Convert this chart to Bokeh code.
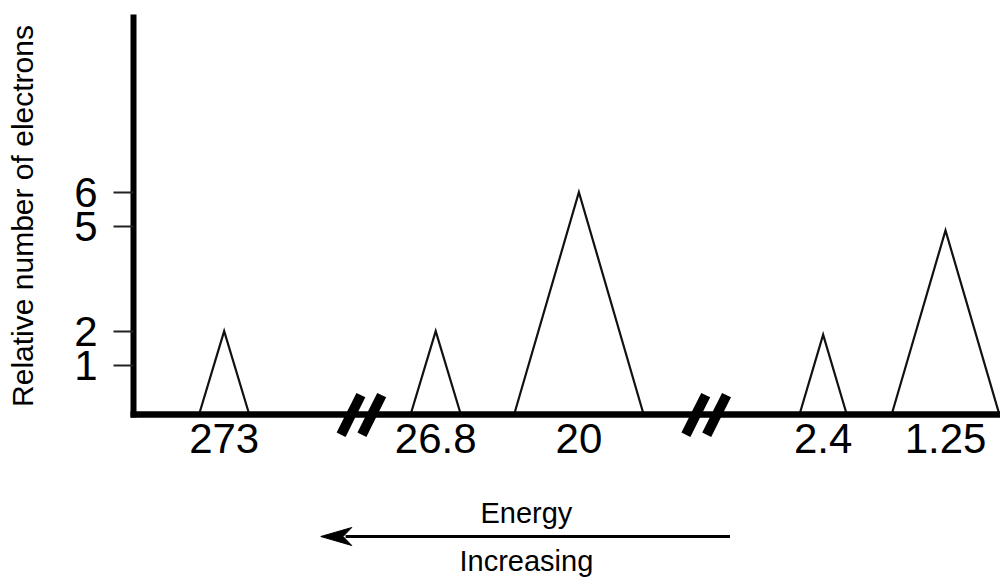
from bokeh.plotting import figure
from bokeh.models import (Range1d, LinearAxis, FixedTicker, Label)
from bokeh.embed import file_html
from bokeh.resources import INLINE

# ---- data -------------------------------------------------------------
energies = ["273", "26.8", "20", "2.4", "1.25"]          # binding energies (MJ/mol)
peak_pos = [9.15, 30.5, 44.95, 69.6, 81.95]              # slot positions along the broken axis
peak_height = [2, 2, 6, 1.9, 4.9]                        # relative number of electrons
peak_halfwidth = [2.55, 2.55, 6.55, 2.4, 5.45]
y_ticks = [1, 2, 5, 6]
break_pos = [23.0, 57.8]                                 # axis break marks

# ---- scales -------------------------------------------------------------
W, H = 1000, 578
x_axis_px = 133.0
x_end = 87.5
x0 = -x_axis_px * x_end / (W - x_axis_px)
PXY = 34.76
y1 = 400.2 / PXY
x_range = Range1d(x0, x_end)
y_range = Range1d(y1 - H / PXY, y1)
PXX = W / (x_end - x0)
base = -0.41          # where the drawn baseline sits
y_top = 11.11
FONT = "Liberation Sans"

p = figure(width=W, height=H, x_range=x_range, y_range=y_range,
           output_backend="svg", toolbar_location=None, x_axis_type=None,
           y_axis_type=None, min_border=0, outline_line_color=None,
           background_fill_color="white", border_fill_color="white")
p.grid.visible = False

# ---- peaks (triangles) -------------------------------------------------
xs = [[c - w, c, c + w] for c, w in zip(peak_pos, peak_halfwidth)]
ys = [[base, h, base] for h in peak_height]
p.multi_line(xs, ys, line_color="#111111", line_width=2.2, line_join="miter")

# ---- axes --------------------------------------------------------------
yax = LinearAxis(fixed_location=0, bounds=(base - 3 / PXY, y_top),
                 ticker=FixedTicker(ticks=y_ticks),
                 axis_label="Relative number of electrons")
yax.axis_line_width = 6
yax.axis_line_color = "black"
yax.major_tick_out = 20
yax.major_tick_in = 0
yax.major_tick_line_width = 2
yax.major_tick_line_color = "#222222"
yax.minor_tick_out = 0
yax.minor_tick_in = 0
yax.major_label_text_font = FONT
yax.major_label_text_font_size = "42px"
yax.major_label_text_color = "black"
yax.major_label_standoff = 16
yax.axis_label_text_font = FONT
yax.axis_label_text_font_size = "30px"
yax.axis_label_text_font_style = "normal"
yax.axis_label_text_color = "black"
yax.axis_label_standoff = 32
p.add_layout(yax, "left")

xax = LinearAxis(fixed_location=base, bounds=(-3 / PXX, x_end),
                 ticker=FixedTicker(ticks=peak_pos),
                 major_label_overrides={c: e for c, e in zip(peak_pos, energies)})
xax.axis_line_width = 6.5
xax.axis_line_color = "black"
xax.major_tick_out = 0
xax.major_tick_in = 0
xax.minor_tick_out = 0
xax.minor_tick_in = 0
xax.major_label_text_font = FONT
xax.major_label_text_font_size = "42px"
xax.major_label_text_color = "black"
xax.major_label_standoff = 9
p.add_layout(xax, "below")

# ---- axis break marks --------------------------------------------------
bx0, bx1, by0, by1 = [], [], [], []
for b in break_pos:
    for off in (-1.05, 1.05):
        bx0.append(b + off - 1.0)
        bx1.append(b + off + 1.0)
        by0.append(base - 0.57)
        by1.append(base + 0.57)
p.segment(bx0, by0, bx1, by1, line_color="black", line_width=10)

# ---- "Energy / Increasing" arrow ---------------------------------------
ay = (400.2 - 536) / PXY
a_start, a_tip = 60.2, 18.9
head_len, head_half = 31 / PXX, 9 / PXY
p.segment([a_start], [ay], [a_tip + head_len * 0.8], [ay], line_color="black", line_width=3)
p.patch([a_tip, a_tip + head_len, a_tip + head_len * 0.72, a_tip + head_len],
        [ay, ay + head_half, ay, ay - head_half], color="black")

mid = (a_start + a_tip) / 2 + 0.1
p.add_layout(Label(x=mid, y=ay + 8 / PXY, text="Energy", text_align="center",
                   text_baseline="bottom", text_font=FONT,
                   text_font_size="29px", text_color="black"))
p.add_layout(Label(x=mid, y=ay - 8 / PXY, text="Increasing", text_align="center",
                   text_baseline="top", text_font=FONT,
                   text_font_size="29px", text_color="black"))

open("out.html", "w").write(file_html(p, INLINE))
